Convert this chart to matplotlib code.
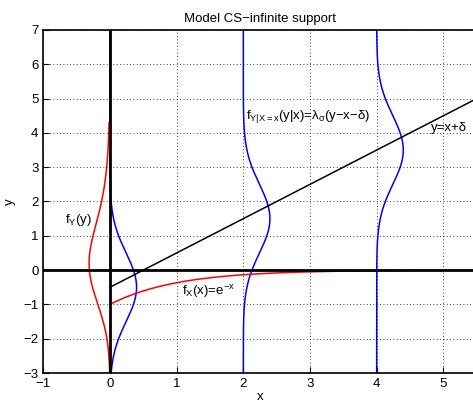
import numpy as np
import matplotlib.pyplot as plt

plt.rcParams['font.family'] = ['Liberation Sans', 'DejaVu Sans']
plt.rcParams['mathtext.fontset'] = 'custom'
plt.rcParams['mathtext.rm'] = 'Liberation Sans'
plt.rcParams['mathtext.it'] = 'Liberation Sans'

# model parameters
delta = -0.5          # offset of the line y = x + delta
sigma = 1.0           # noise scale of the conditional density
x_cond = [0, 2, 4]    # x positions where f_{Y|X=x} is drawn
fy_top = 4.3          # f_Y(y) drawn up to this y

xlim = (-1, 5.5)
ylim = (-3, 7)
xticks = [-1, 0, 1, 2, 3, 4, 5]
yticks = [-3, -2, -1, 0, 1, 2, 3, 4, 5, 6, 7]


def gauss(t):
    return np.exp(-0.5 * (t / sigma) ** 2) / (np.sqrt(2 * np.pi) * sigma)


def f_y(y):
    # density of Y = X + delta + noise, X ~ Exp(1)
    u = np.linspace(0, 15, 3000)
    du = u[1] - u[0]
    return np.array([np.sum(np.exp(-u) * gauss(v - u - delta)) * du for v in y])


fig = plt.figure(figsize=(4.73, 4.05), dpi=100)
ax = fig.add_axes([43.3 / 473, 1 - 373 / 405, (476.7 - 43.3) / 473, (373 - 30) / 405])

yy = np.linspace(ylim[0], ylim[1], 600)
for x0 in x_cond:
    ax.plot(x0 + gauss(yy - x0 - delta), yy, color='b', lw=1.1)

ys = np.linspace(ylim[0], fy_top, 400)
ax.plot(-f_y(ys), ys, color='r', lw=1.1)

xs = np.linspace(0, xlim[1], 400)
ax.plot(xs, -np.exp(-xs), color='r', lw=1.1)
ax.plot(xs, xs + delta, color='k', lw=1.1)

ax.axvline(0, color='k', lw=2)
ax.axhline(0, color='k', lw=2)

fs = 9.5
ax.text(-0.67, 1.38, r'f$_{\mathregular{Y}}$(y)', fontsize=fs)
ax.text(2.04, 4.42, r'f$_{\mathregular{Y|X=x}}$(y|x)=λ$_{\mathregular{σ}}$(y−x−δ)', fontsize=fs)
ax.text(4.82, 4.05, 'y=x+δ', fontsize=fs)
ax.text(1.08, -0.72, r'f$_{\mathregular{X}}$(x)=e$^{\mathregular{−x}}$', fontsize=fs)

ax.set_xlim(*xlim)
ax.set_ylim(*ylim)
ax.set_xticks(xticks)
ax.set_yticks(yticks)
ax.set_xticklabels([str(t).replace('-', '−') for t in xticks])
ax.set_yticklabels([str(t).replace('-', '−') for t in yticks])
ax.tick_params(direction='in', labelsize=fs, length=4)
ax.grid(True, linestyle=(0, (1, 3)), color='k', lw=0.6)
for s in ax.spines.values():
    s.set_linewidth(1.2)
ax.set_xlabel('x', fontsize=fs, labelpad=1)
ax.set_ylabel('y', fontsize=fs, labelpad=5)
ax.set_title('Model CS−infinite support', fontsize=fs, pad=6)

fig.savefig('out.png', dpi=100)
